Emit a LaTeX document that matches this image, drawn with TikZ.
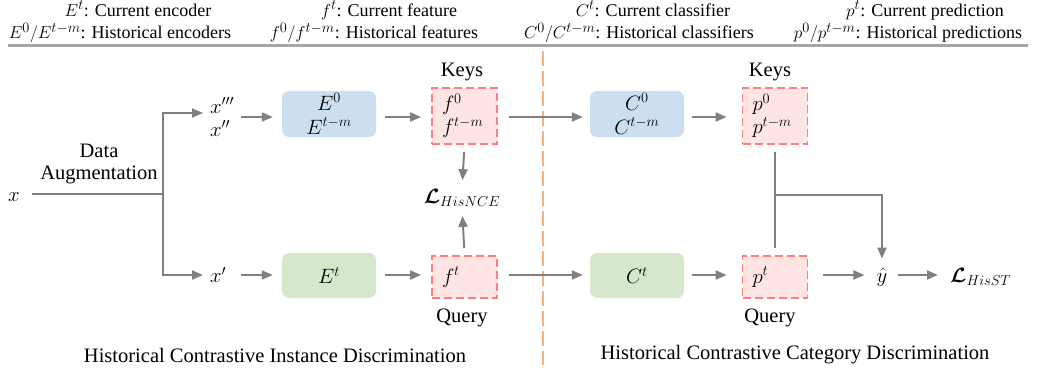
\documentclass[tikz,border=0pt]{standalone}
\usepackage{amsmath}
\usepackage{bm}
\usepackage{fontspec}
\setmainfont{Liberation Serif}
\usetikzlibrary{arrows.meta,calc}
\DeclareMathSizes{18}{18}{14}{11}
\DeclareMathSizes{20.5}{20.5}{15.5}{12}
\definecolor{arrgray}{HTML}{808080}
\definecolor{legline}{HTML}{A6A6A6}
\definecolor{bluefill}{HTML}{CCDFF1}
\definecolor{greenfill}{HTML}{D5E8CC}
\definecolor{pinkfill}{HTML}{FFE4E4}
\definecolor{pinkdraw}{HTML}{FF7C80}
\definecolor{orangeline}{HTML}{F4B183}
\newcommand\legfont{\fontsize{18}{20}\selectfont}
\newcommand\diagfont{\fontsize{20.5}{22}\selectfont}
\tikzset{
  arr/.style={draw=arrgray, line width=2pt, -{Triangle[length=11pt,width=9pt]}},
  conn/.style={draw=arrgray, line width=2pt},
  leg/.style={font=\legfont, anchor=base, inner sep=0pt},
  lbl/.style={font=\diagfont, inner sep=0pt},
  encbox/.style={rounded corners=7pt, minimum width=94pt, minimum height=46pt, inner sep=0pt, align=center, font=\diagfont},
  bluebox/.style={encbox, fill=bluefill},
  greenbox/.style={encbox, fill=greenfill},
  pinkbox/.style={draw=pinkdraw, fill=pinkfill, line width=1.8pt, dash pattern=on 8pt off 4pt, inner xsep=10pt, inner ysep=0pt, text width=45pt, align=left, font=\diagfont},
  xlab/.style={font=\diagfont, anchor=west, inner xsep=7pt, inner ysep=0pt, text width=24pt, align=left},
}
\begin{document}
\begin{tikzpicture}[x=1pt,y=-1pt]
\useasboundingbox (0,0) rectangle (1039,375);
% legend
\node[leg] (leg1) at (138,16) {$E^t$: Current encoder};
\node[leg] (leg2) at (389,16) {$f^t$: Current feature};
\node[leg] (leg3) at (653,16) {$C^t$: Current classifier};
\node[leg] (leg4) at (925,16) {$p^t$: Current prediction};
\node[leg] (leg5) at (120,38.5) {$E^0/E^{t-m}$: Historical encoders};
\node[leg] (leg6) at (374,38.5) {$f^0/f^{t-m}$: Historical features};
\node[leg] (leg7) at (639,38.5) {$C^0/C^{t-m}$: Historical classifiers};
\node[leg] (leg8) at (908,38.5) {$p^0/p^{t-m}$: Historical predictions};
\draw[legline, line width=3pt] (8,45) -- (1028,45);
% separator
\draw[orangeline, line width=2pt, dash pattern=on 15pt off 5pt] (543,51) -- (543,365);
% coordinates
\coordinate (split) at (163,194);
\coordinate (topY) at (0,113);
\coordinate (rowA) at (0,117);
\coordinate (rowB) at (0,275);
\coordinate (brY) at (0,195);
% nodes
\node[lbl] (xin) at (14,197) {$x$};
\node[lbl, align=center] (da) at (99,164) {Data\\Augmentation};
\node[xlab] (xpp) at (203,117) {$x'''$\\[1pt]$x''$};
\node[xlab] (xp) at (203,275) {$x'$};
\node[bluebox] (E0) at (329,114) {$E^0$\\[2pt]$E^{t-m}$};
\node[greenbox, minimum height=45pt] (Et) at (329,275.5) {$E^t$};
\node[pinkbox, minimum height=56pt] (f0) at (464.5,116) {$f^0$\\[1pt]$f^{t-m}$};
\node[pinkbox, minimum height=42pt] (ft) at (464.5,277) {$f^t$};
\node[lbl] (keys1) at (462,72) {Keys};
\node[lbl] (query1) at (462,318) {Query};
\node[lbl] (lnce) at (462,198) {$\bm{\mathcal{L}}_{HisNCE}$};
\node[bluebox] (C0) at (637,114) {$C^0$\\[2pt]$C^{t-m}$};
\node[greenbox, minimum height=45pt] (Ct) at (637,275.5) {$C^t$};
\node[pinkbox, minimum height=56pt] (p0) at (775,116) {$p^0$\\[1pt]$p^{t-m}$};
\node[pinkbox, minimum height=42pt] (pt) at (775,277) {$p^t$};
\node[lbl] (keys2) at (770,72) {Keys};
\node[lbl] (query2) at (770,318) {Query};
\node[lbl] (yhat) at (882,277) {$\hat{y}$};
\node[lbl, anchor=west] (lst) at (950,277) {$\bm{\mathcal{L}}_{HisST}$};
\node[lbl] (title1) at (275,355) {Historical Contrastive Instance Discrimination};
\node[lbl] (title2) at (795,355) {Historical Contrastive Category Discrimination};
% connectors
\draw[conn, shorten <=12pt] (xin.east |- split) -- (split);
\draw[arr] (split) |- (xpp.west |- topY);
\draw[arr] (split) |- (xp.west |- rowB);
\draw[arr] (xpp.east |- rowA) -- ([xshift=-9pt]E0.west |- rowA);
\draw[arr] (xp.east |- rowB) -- ([xshift=-9pt]Et.west |- rowB);
\draw[arr, shorten <=9pt, shorten >=10pt] (E0.east |- rowA) -- (f0.west |- rowA);
\draw[arr, shorten <=9pt, shorten >=10pt] (Et.east |- rowB) -- (ft.west |- rowB);
\draw[arr, shorten <=7pt, shorten >=9pt] (f0.south) -- (lnce.north);
\draw[arr, shorten <=7pt, shorten >=9pt] (ft.north) -- (lnce.south);
\draw[arr, shorten <=11pt, shorten >=7pt] (f0.east |- rowA) -- (C0.west |- rowA);
\draw[arr, shorten <=11pt, shorten >=7pt] (ft.east |- rowB) -- (Ct.west |- rowB);
\draw[arr, shorten <=8pt, shorten >=15pt] (C0.east |- rowA) -- (p0.west |- rowA);
\draw[arr, shorten <=8pt, shorten >=15pt] (Ct.east |- rowB) -- (pt.west |- rowB);
\draw[conn, shorten <=7pt, shorten >=7pt] (p0.south) -- (pt.north);
\draw[arr, shorten >=9pt] (p0.south |- brY) -| (yhat.north);
\draw[arr, shorten <=15pt, shorten >=12pt] (pt.east |- rowB) -- (yhat.west |- rowB);
\draw[arr, shorten <=10pt, shorten >=12pt] (yhat.east |- rowB) -- (lst.west |- rowB);
\end{tikzpicture}
\end{document}
